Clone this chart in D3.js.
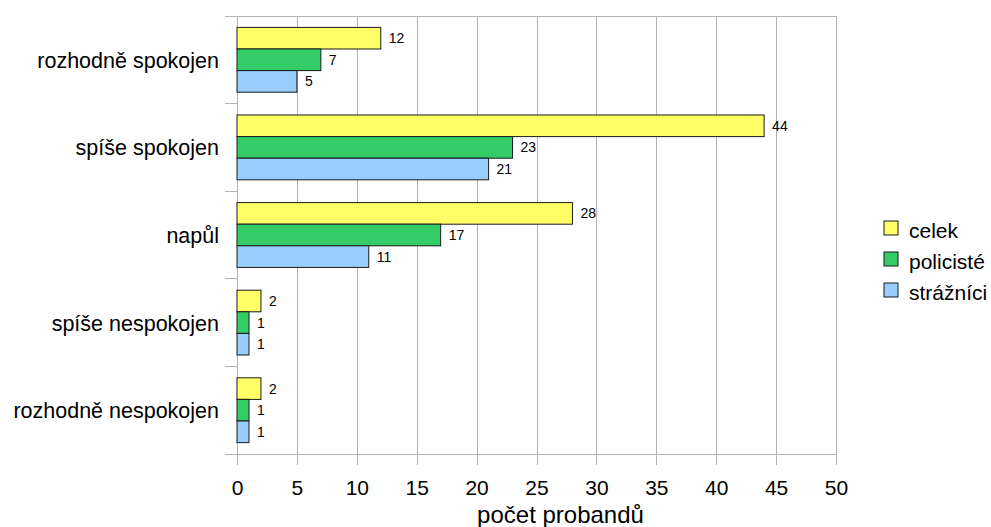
<!DOCTYPE html>
<html>
<head>
<meta charset="utf-8">
<script src="https://cdn.jsdelivr.net/npm/d3@7/dist/d3.min.js"></script>
<style>
  html, body { margin: 0; padding: 0; background: #fff; }
  svg { display: block; font-family: "Liberation Sans", Arial, sans-serif; }
</style>
</head>
<body>
<svg id="chart" width="991" height="527"></svg>
<script>
// Survey answers (top to bottom) and number of respondents per group
const categories = ["rozhodně spokojen", "spíše spokojen", "napůl", "spíše nespokojen", "rozhodně nespokojen"];
const seriesNames = ["celek", "policisté", "strážníci"];
const celek = [12, 44, 28, 2, 2];
const policiste = [7, 23, 17, 1, 1];
const straznici = [5, 21, 11, 1, 1];
const xTicks = [0, 5, 10, 15, 20, 25, 30, 35, 40, 45, 50];
const axisTitle = "počet probandů";

(function () {
  const seriesValues = [celek, policiste, straznici];
  const colors = ["#ffff66", "#33cc66", "#99ccff"];
  const gridColor = "#b3b3b3";

  const svg = d3.select("#chart");
  const pLeft = 237, pRight = 836, pTop = 16, pBottom = 454;

  const x = d3.scaleLinear().domain([0, 50]).range([pLeft, pRight]);
  const y = d3.scaleBand().domain(categories).range([pTop, pBottom]).paddingInner(0.26).paddingOuter(0.13);
  const inner = d3.scaleBand().domain(seriesNames).range([0, y.bandwidth()]);

  // vertical grid lines with ticks below the plot
  const gx = svg.append("g").attr("transform", `translate(0,${pBottom})`)
    .call(d3.axisBottom(x).tickValues(xTicks).tickSize(-(pBottom - pTop)).tickSizeOuter(0));
  gx.select(".domain").attr("stroke", gridColor);
  gx.selectAll(".tick line").attr("stroke", gridColor).attr("y2", 11).attr("y1", -(pBottom - pTop))
    .attr("shape-rendering", "crispEdges");
  gx.selectAll(".tick text").attr("font-size", 21).attr("fill", "#000")
    .attr("font-family", "Liberation Sans, Arial, sans-serif")
    .attr("dy", null).attr("y", 41);

  // left axis with band boundary ticks
  const boundaries = d3.range(categories.length + 1).map(i => pTop + i * (pBottom - pTop) / categories.length);
  svg.append("line").attr("x1", pLeft).attr("x2", pLeft).attr("y1", pTop).attr("y2", pBottom + 11)
    .attr("stroke", gridColor).attr("shape-rendering", "crispEdges");
  svg.selectAll(".bt").data(boundaries).join("line")
    .attr("x1", pLeft - 12).attr("x2", pLeft).attr("y1", d => d).attr("y2", d => d)
    .attr("stroke", gridColor).attr("shape-rendering", "crispEdges");
  svg.append("line").attr("x1", pLeft).attr("x2", pRight).attr("y1", pTop).attr("y2", pTop)
    .attr("stroke", gridColor).attr("shape-rendering", "crispEdges");

  svg.selectAll(".cat").data(categories).join("text")
    .attr("x", 219).attr("y", d => y(d) + y.bandwidth() / 2 + 8)
    .attr("text-anchor", "end")
    .attr("font-size", 21.5).text(d => d);

  // bars
  seriesNames.forEach((s, si) => {
    const g = svg.append("g");
    g.selectAll("rect").data(categories).join("rect")
      .attr("x", x(0)).attr("y", c => y(c) + inner(s))
      .attr("width", (c, i) => x(seriesValues[si][i]) - x(0))
      .attr("height", inner.bandwidth())
      .attr("fill", colors[si]).attr("stroke", "#1a1a1a").attr("stroke-width", 1);
    g.selectAll("text").data(categories).join("text")
      .attr("x", (c, i) => x(seriesValues[si][i]) + 8)
      .attr("y", c => y(c) + inner(s) + inner.bandwidth() / 2 + 5)
      .attr("font-size", 14)
      .text((c, i) => seriesValues[si][i]);
  });

  // axis title
  svg.append("text").attr("x", (pLeft + pRight) / 2 + 24).attr("y", 523)
    .attr("text-anchor", "middle").attr("font-size", 24).text(axisTitle);

  // legend
  const lg = svg.append("g").attr("transform", "translate(884,221)");
  seriesNames.forEach((s, i) => {
    lg.append("rect").attr("x", 0).attr("y", i * 31).attr("width", 14).attr("height", 14)
      .attr("fill", colors[i]).attr("stroke", "#1a1a1a");
    lg.append("text").attr("x", 25).attr("y", i * 31 + 16.5)
      .attr("font-size", 21).text(s);
  });
})();
</script>
</body>
</html>
